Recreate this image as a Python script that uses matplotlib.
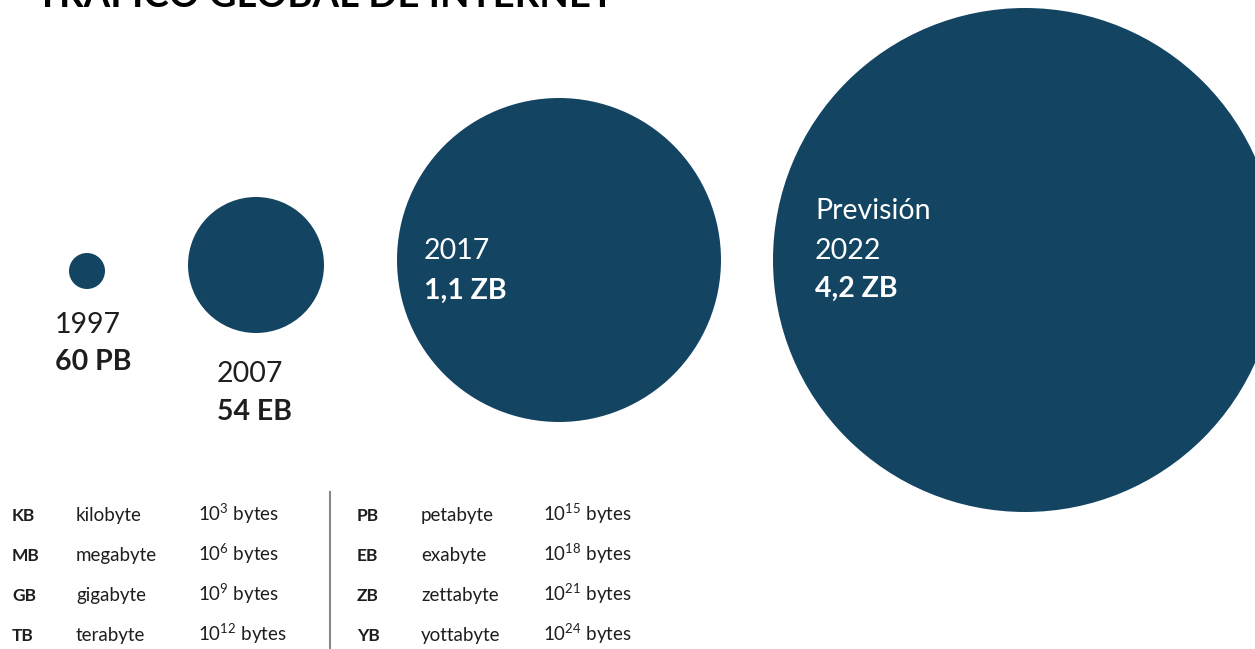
import matplotlib.pyplot as plt
from matplotlib.patches import Circle

# data
years = ['1997', '2007', '2017', '2022']
traffic = ['60 PB', '54 EB', '1,1 ZB', '4,2 ZB']
radius = [18, 68, 162, 252]          # visual size of each bubble
units_abbr = ['KB', 'MB', 'GB', 'TB', 'PB', 'EB', 'ZB', 'YB']
units_name = ['kilobyte', 'megabyte', 'gigabyte', 'terabyte',
              'petabyte', 'exabyte', 'zettabyte', 'yottabyte']
units_exp = [3, 6, 9, 12, 15, 18, 21, 24]

plt.rcParams['font.family'] = ['Lato', 'DejaVu Sans']
plt.rcParams['mathtext.fontset'] = 'custom'
plt.rcParams['mathtext.rm'] = 'Lato'

blue = '#134563'
dark = '#1e1e1e'

fig = plt.figure(figsize=(12.55, 6.49), dpi=100)
ax = fig.add_axes([0, 0, 1, 1])
ax.set_xlim(0, 1255)
ax.set_ylim(649, 0)
ax.set_aspect('equal')
ax.axis('off')

# title, cut at the top edge
ax.text(36, 7, 'TRÁFICO GLOBAL DE INTERNET', fontsize=27.5, fontweight='bold',
        color='black', va='baseline', ha='left')

centers = [(87, 271), (256, 265), (559, 260), (1025, 260)]
for (cx, cy), r in zip(centers, radius):
    ax.add_patch(Circle((cx, cy), r, color=blue, lw=0))

# labels
fs = 20.5
ax.text(55, 333, years[0], fontsize=fs, color=dark, va='baseline')
ax.text(55, 370, traffic[0], fontsize=fs, color=dark, fontweight='bold', va='baseline')
ax.text(217, 382, years[1], fontsize=fs, color=dark, va='baseline')
ax.text(217, 420, traffic[1], fontsize=fs, color=dark, fontweight='bold', va='baseline')
ax.text(424, 259, years[2], fontsize=fs, color='white', va='baseline')
ax.text(424, 299, traffic[2], fontsize=fs, color='white', fontweight='bold', va='baseline')
ax.text(815, 219, 'Previsión', fontsize=fs, color='white', va='baseline')
ax.text(815, 259, years[3], fontsize=fs, color='white', va='baseline')
ax.text(815, 297, traffic[3], fontsize=fs, color='white', fontweight='bold', va='baseline')

# units table
for i in range(8):
    col = i // 4
    row = i % 4
    x0 = 12 + col * 345
    y = 521 + row * 40
    ax.text(x0, y, units_abbr[i], fontsize=12.5, fontweight='bold', color=dark, va='baseline')
    ax.text(x0 + 64, y, units_name[i], fontsize=13.5, color=dark, va='baseline')
    ax.text(x0 + 186, y, '10$^{\\mathregular{%d}}$ bytes' % units_exp[i],
            fontsize=13.5, color=dark, va='baseline')
ax.plot([330, 330], [492, 649], color='#888888', lw=1.5)

fig.savefig('out.png', dpi=100)
